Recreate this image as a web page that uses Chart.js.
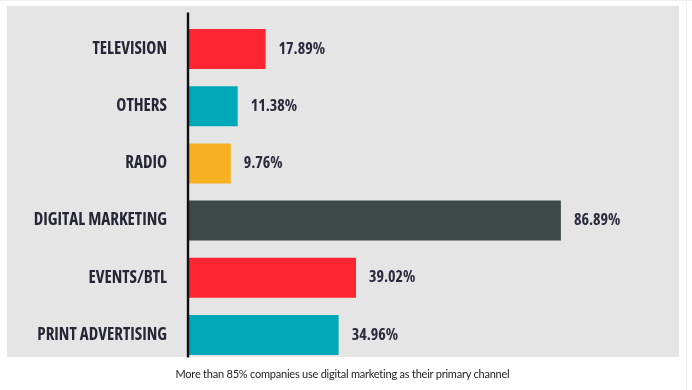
<!DOCTYPE html>
<html><head><meta charset="utf-8">
<script src="https://cdn.jsdelivr.net/npm/chart.js@4.4.1/dist/chart.umd.min.js"></script>
<style>
html,body{margin:0;padding:0;background:#fff;width:692px;height:390px;overflow:hidden}
#wrap{position:absolute;left:0;top:0;width:692px;height:390px}
#cap{position:absolute;left:0;width:685px;top:366.5px;text-align:center;font-family:'Lato',sans-serif;font-size:11px;letter-spacing:-0.22px;color:#222;white-space:nowrap}
</style></head><body>
<div id="wrap"><canvas id="c" width="692" height="390"></canvas></div>
<div id="cap">More than 85% companies use digital marketing as their primary channel</div>
<script>
const categories = ['TELEVISION','OTHERS','RADIO','DIGITAL MARKETING','EVENTS/BTL','PRINT ADVERTISING'];
const shares = [17.89, 11.38, 9.76, 86.89, 39.02, 34.96];
const barColors = ['#fe2532','#00a8b8','#f6b022','#3e4949','#fe2532','#00a8b8'];

const panelPlugin = {
  id:'panel',
  beforeDraw(chart){
    const ctx = chart.ctx;
    ctx.save();
    ctx.fillStyle = '#f1f1f1';
    ctx.fillRect(0,0,692,1);
    ctx.fillRect(686,0,1,390);
    ctx.fillStyle = '#e5e5e5';
    ctx.fillRect(7,6,672,351);
    ctx.restore();
  },
  afterDatasetsDraw(chart){
    const ctx = chart.ctx;
    const x0 = chart.scales.x.getPixelForValue(0);
    ctx.save();
    ctx.fillStyle = '#111';
    ctx.fillRect(x0-2.2, 12.5, 2.4, 345);
    const meta = chart.getDatasetMeta(0);
    ctx.font = "condensed bold 16px 'Open Sans'";
    ctx.fillStyle = '#2a2a3c';
    ctx.textAlign = 'left';
    ctx.textBaseline = 'middle';
    meta.data.forEach((bar,i)=>{
      ctx.fillText(shares[i].toFixed(2)+'%', bar.x + 13, bar.y);
    });
    ctx.restore();
  }
};

new Chart(document.getElementById('c'), {
  type:'bar',
  data:{labels:categories, datasets:[{data:shares, backgroundColor:barColors, borderWidth:0, barPercentage:0.7, categoryPercentage:1}]},
  options:{
    indexAxis:'y', responsive:false, animation:false, devicePixelRatio:1,
    layout:{padding:{left:0,right:75,top:20.4,bottom:26.4}},
    plugins:{legend:{display:false}, tooltip:{enabled:false}},
    scales:{
      x:{display:false, min:0, max:100},
      y:{
        afterFit(s){ s.width = 189; s.paddingTop = 0; s.paddingBottom = 0; },
        grid:{display:false, drawTicks:false},
        border:{display:false},
        ticks:{padding:22, color:'#262636', font:{family:"'Open Sans'", weight:'condensed bold', size:17}}
      }
    }
  },
  plugins:[panelPlugin]
});
</script>
</body></html>
